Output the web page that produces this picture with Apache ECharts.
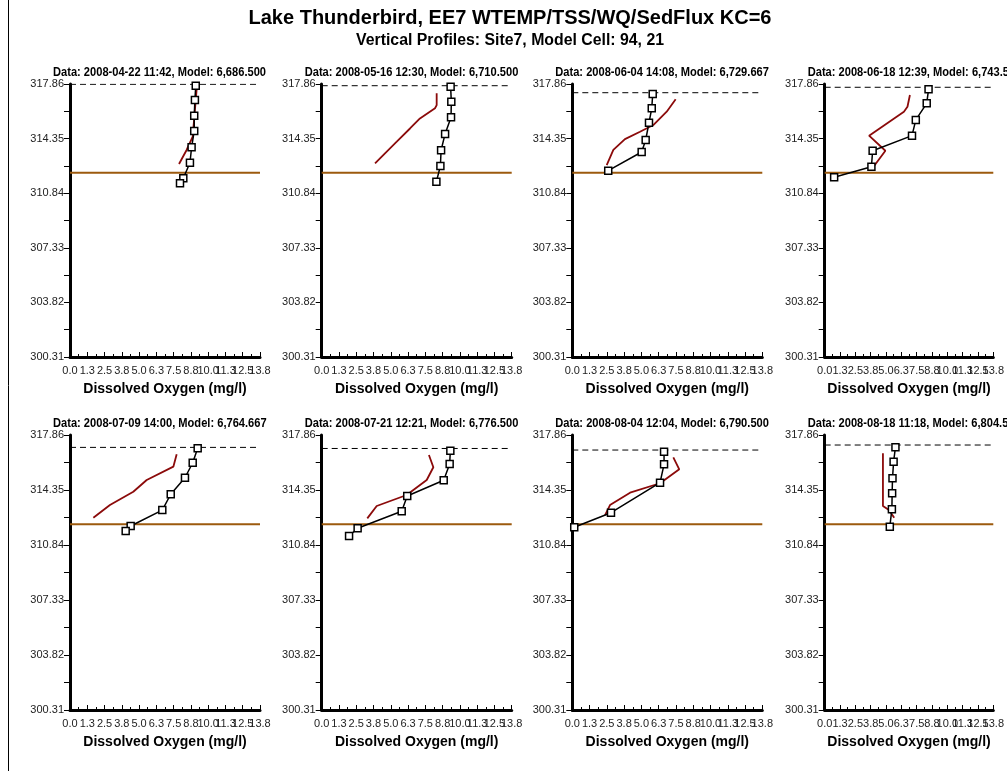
<!DOCTYPE html>
<html>
<head>
<meta charset="utf-8">
<script src="https://cdn.jsdelivr.net/npm/echarts@6/dist/echarts.min.js"></script>
<style>
html,body{margin:0;padding:0;background:#fff;}
#chart{width:1007px;height:771px;}
</style>
</head>
<body>
<div id="chart"></div>
<script>
// ---- data ----
const mainTitle = "Lake Thunderbird, EE7 WTEMP/TSS/WQ/SedFlux KC=6";
const subTitle = "Vertical Profiles: Site7, Model Cell: 94, 21";
const xAxisTitle = "Dissolved Oxygen (mg/l)";
const panelTitles = [
  "Data: 2008-04-22 11:42, Model: 6,686.500",
  "Data: 2008-05-16 12:30, Model: 6,710.500",
  "Data: 2008-06-04 14:08, Model: 6,729.667",
  "Data: 2008-06-18 12:39, Model: 6,743.500",
  "Data: 2008-07-09 14:00, Model: 6,764.667",
  "Data: 2008-07-21 12:21, Model: 6,776.500",
  "Data: 2008-08-04 12:04, Model: 6,790.500",
  "Data: 2008-08-18 11:18, Model: 6,804.500"
];
const xTickLabels = ["0.0","1.3","2.5","3.8","5.0","6.3","7.5","8.8","10.0","11.3","12.5","13.8"];
const xTicksEven = [0, 2.5, 5, 7.5, 10, 12.5];
const xTicksOdd = [1.25, 3.75, 6.25, 8.75, 11.25, 13.75];
const xMin = 0, xMax = 13.75, xStep = 1.25;
const yTicks = [300.31, 303.82, 307.33, 310.84, 314.35, 317.86];
const yMinorTicks = [302.065, 305.575, 309.085, 312.595, 316.105];

const obsDO = [
  [9.10, 9.04, 8.99, 8.99, 8.80, 8.68, 8.20, 7.96],
  [9.33, 9.38, 9.36, 8.93, 8.64, 8.59, 8.30],
  [5.82, 5.75, 5.55, 5.31, 5.02, 2.60],
  [8.47, 8.32, 7.43, 7.12, 3.91, 3.81, 0.77],
  [9.24, 8.88, 8.32, 7.29, 6.68, 4.39, 4.03],
  [9.31, 9.26, 8.83, 6.19, 5.79, 2.60, 1.98],
  [6.64, 6.64, 6.35, 2.80, 0.14],
  [5.77, 5.62, 5.53, 5.50, 5.48, 5.31]
];
const obsElev = [
  [317.75, 316.83, 315.82, 314.84, 313.79, 312.80, 311.80, 311.48],
  [317.69, 316.72, 315.72, 314.65, 313.60, 312.59, 311.58],
  [317.22, 316.30, 315.37, 314.26, 313.49, 312.29],
  [317.52, 316.62, 315.55, 314.54, 313.57, 312.54, 311.86],
  [317.01, 316.09, 315.13, 314.08, 313.07, 312.05, 311.73],
  [316.86, 316.01, 314.97, 313.97, 312.99, 311.91, 311.41],
  [316.79, 315.99, 314.82, 312.90, 311.97],
  [317.08, 316.16, 315.10, 314.14, 313.12, 312.01]
];
const modelDO = [
  [9.17, 9.00, 8.88, 8.44, 7.89],
  [8.32, 8.32, 8.20, 7.11, 6.39, 5.43, 4.58, 3.86],
  [7.48, 6.83, 5.86, 4.90, 3.81, 2.97, 2.49],
  [6.95, 6.75, 6.46, 3.62, 4.95, 3.98],
  [7.72, 7.48, 5.55, 4.58, 2.89, 1.69],
  [7.76, 8.08, 7.60, 6.15, 3.98, 3.30],
  [7.31, 7.74, 6.35, 4.18, 2.73, 2.37],
  [4.75, 4.75, 5.24, 5.67]
];
const modelElev = [
  [317.58, 315.76, 314.47, 313.62, 312.72],
  [317.26, 316.50, 316.30, 315.65, 315.00, 314.15, 313.40, 312.76],
  [316.88, 316.08, 315.22, 314.79, 314.32, 313.62, 312.65],
  [317.15, 316.40, 316.08, 314.54, 313.57, 312.54],
  [316.63, 315.84, 314.99, 314.24, 313.39, 312.58],
  [316.58, 315.80, 314.99, 314.03, 313.33, 312.54],
  [316.43, 315.67, 314.78, 314.18, 313.39, 312.75],
  [316.69, 313.33, 313.07, 312.58]
];
const surfaceElev = [317.84, 317.75, 317.30, 317.65, 317.07, 317.00, 316.90, 317.22];
const bedElev = [312.16, 312.16, 312.16, 312.16, 312.16, 312.16, 312.16, 312.16];

// ---- layout ----
const colX = [70, 321.7, 572.3, 824.7];
const rowTop = [84, 435];
const plotH = [273, 275];
const plotW = 190;
const regular = '"Liberation Sans",Arial,sans-serif';

const measureCtx = document.createElement('canvas').getContext('2d');
function textWidth(s, size) {
  measureCtx.font = 'bold ' + size + 'px "Liberation Sans"';
  return measureCtx.measureText(s).width;
}
function condensedText(s, x, y, size, targetWidth, align) {
  const sx = targetWidth / textWidth(s, size);
  return {type: 'text', x: x, y: y, scaleX: sx, scaleY: 1, silent: true,
    style: {text: s, fontFamily: '"Liberation Sans"', fontSize: size, fontWeight: 'bold',
      fill: '#000', align: align, verticalAlign: 'middle'}};
}

const grids = [], xAxes = [], yAxes = [], series = [];
const graphics = [
  {type: 'line', silent: true, shape: {x1: 8.5, y1: 0, x2: 8.5, y2: 771}, style: {stroke: '#000', lineWidth: 1}},
  condensedText(mainTitle, 510, 18, 20, 523, 'center'),
  condensedText(subTitle, 510, 41, 16, 308, 'center')
];
const panelScaleW = 213 / textWidth(panelTitles[0], 12);
const xLabelStyle = {fontFamily: regular, fontSize: 11, color: '#222', margin: 8,
  showMinLabel: true, showMaxLabel: true, hideOverlap: false,
  formatter: v => xTickLabels[Math.round(v / xStep)]};

for (let i = 0; i < 8; i++) {
  const r = Math.floor(i / 4), c = i % 4;
  grids.push({left: colX[c], top: rowTop[r], width: plotW, height: plotH[r], containLabel: false});
  graphics.push(condensedText(panelTitles[i], colX[c] - 17, rowTop[r] - 11, 12,
    textWidth(panelTitles[i], 12) * panelScaleW, 'left'));
  xAxes.push({
    type: 'value', gridIndex: i, position: 'bottom', min: xMin, max: xMax, interval: xStep,
    name: xAxisTitle, nameLocation: 'middle', nameGap: 25,
    nameTextStyle: {fontFamily: regular, fontSize: 14, fontWeight: 'bold', color: '#000'},
    axisLine: {show: true, onZero: false, lineStyle: {color: '#000', width: 3}},
    axisTick: {show: true, inside: true, length: 5, lineStyle: {color: '#000', width: 1}},
    minorTick: {show: true, splitNumber: 2, length: 3, lineStyle: {color: '#000', width: 1}},
    splitLine: {show: false},
    axisLabel: Object.assign({customValues: xTicksEven}, xLabelStyle)
  });
  xAxes.push({
    type: 'value', gridIndex: i, position: 'bottom', offset: 0, min: xMin, max: xMax, interval: xStep,
    axisLine: {show: false, onZero: false},
    axisTick: {show: false},
    splitLine: {show: false},
    axisLabel: Object.assign({customValues: xTicksOdd}, xLabelStyle)
  });
  yAxes.push({
    type: 'value', gridIndex: i, min: yTicks[0], max: yTicks[yTicks.length - 1],
    axisLine: {show: true, onZero: false, lineStyle: {color: '#000', width: 3}},
    axisTick: {show: true, inside: false, length: 6, customValues: yTicks, lineStyle: {color: '#000', width: 1}},
    splitLine: {show: false},
    axisLabel: {fontFamily: regular, fontSize: 11, color: '#222', margin: 6,
      customValues: yTicks, formatter: v => v.toFixed(2)}
  });
  yAxes.push({
    type: 'value', gridIndex: i, min: yTicks[0], max: yTicks[yTicks.length - 1],
    axisLine: {show: false},
    axisTick: {show: true, inside: true, length: 6, customValues: yMinorTicks, lineStyle: {color: '#000', width: 1}},
    splitLine: {show: false},
    axisLabel: {show: false}
  });
  const xi = 2 * i, yi = 2 * i;
  series.push({type: 'line', xAxisIndex: xi, yAxisIndex: yi, silent: true, symbol: 'none',
    lineStyle: {color: '#9C5A0E', width: 2}, z: 2,
    data: [[xMin, bedElev[i]], [xMax, bedElev[i]]]});
  series.push({type: 'line', xAxisIndex: xi, yAxisIndex: yi, silent: true, symbol: 'none',
    lineStyle: {color: '#000', width: 1, type: [6, 4]}, z: 2,
    data: [[xMin, surfaceElev[i]], [xMax, surfaceElev[i]]]});
  series.push({type: 'line', xAxisIndex: xi, yAxisIndex: yi, silent: true, symbol: 'none',
    lineStyle: {color: '#8B0A0A', width: 1.8}, z: 3,
    data: modelDO[i].map((d, k) => [d, modelElev[i][k]])});
  series.push({type: 'line', xAxisIndex: xi, yAxisIndex: yi, silent: true,
    symbol: 'rect', symbolSize: 7, showAllSymbol: true,
    itemStyle: {color: '#fff', borderColor: '#000', borderWidth: 1.5},
    lineStyle: {color: '#000', width: 1.5}, z: 4,
    data: obsDO[i].map((d, k) => [d, obsElev[i][k]])});
}

const chart = echarts.init(document.getElementById('chart'), null, {renderer: 'canvas'});
chart.setOption({
  animation: false,
  backgroundColor: '#fff',
  grid: grids,
  xAxis: xAxes,
  yAxis: yAxes,
  series: series,
  graphic: graphics
});
</script>
</body>
</html>
